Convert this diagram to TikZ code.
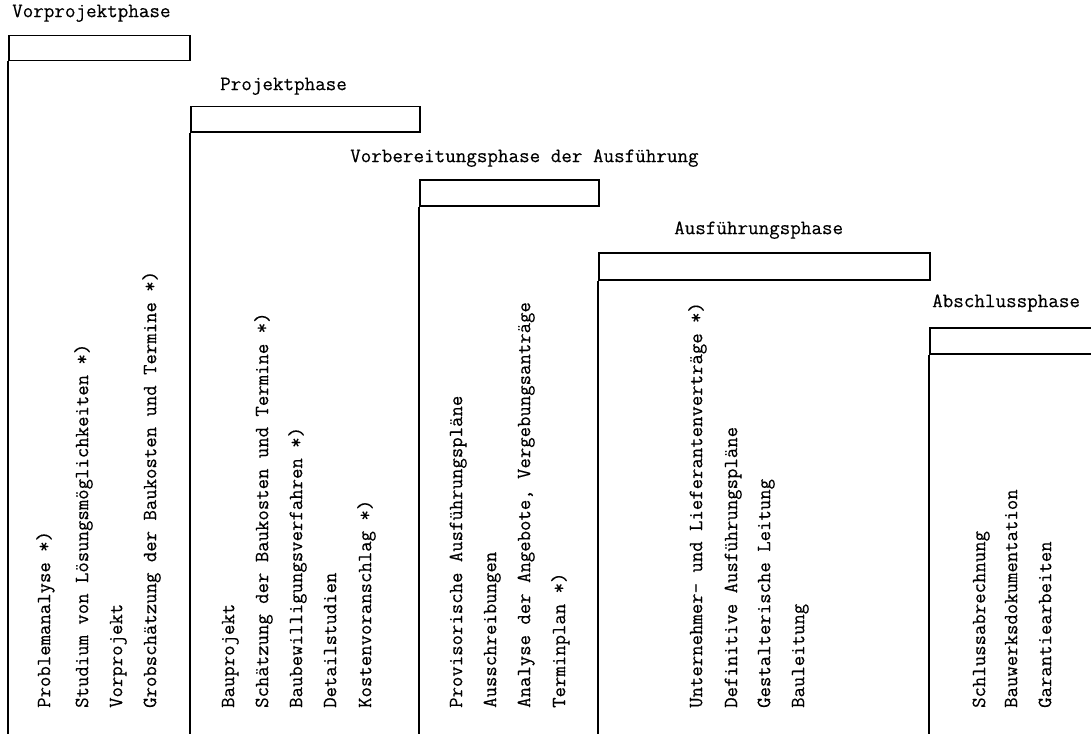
\documentclass[tikz,border=0pt]{standalone}
\usepackage{fontspec}
\newfontfamily\typewriter[FakeBold=0.3]{Latin Modern Mono}
\begin{document}
\begin{tikzpicture}[x=1pt,y=-1pt,
  rule/.style={line width=1.5pt,black},
  phasebox/.style={rule,draw,rectangle,inner sep=0pt,anchor=north west},
  phasetitle/.style={anchor=mid west,inner sep=0pt,font=\typewriter\fontsize{20.5}{22}\selectfont},
  task/.style={rotate=90,anchor=mid west,inner sep=0pt,font=\typewriter\fontsize{20.2}{22}\selectfont}]
\useasboundingbox (0,0) rectangle (1091,733);
\fill[white] (0,0) rectangle (1091,733);

% phase 1
\node[phasetitle] (t1) at (12,15) {Vorprojektphase};
\node[phasebox,minimum width=181,minimum height=25] (b1) at (8,35) {};
\coordinate (e1) at (8,736);
\draw[rule] (b1.south west) -- (e1);
\node[task] (a11) at (48,708) {Problemanalyse *)};
\node[task] (a12) at (86,708) {Studium von Lösungsmöglichkeiten *)};
\node[task] (a13) at (120,708) {Vorprojekt};
\node[task] (a14) at (154,708) {Grobschätzung der Baukosten und Termine *)};

% phase 2
\node[phasetitle] (t2) at (220,88) {Projektphase};
\node[phasebox,minimum width=229,minimum height=25] (b2) at (190,106) {};
\coordinate (e2) at (190,736);
\draw[rule] (b2.south west) -- (e2);
\node[task] (a21) at (232,708) {Bauprojekt};
\node[task] (a22) at (266,708) {Schätzung der Baukosten und Termine *)};
\node[task] (a23) at (300,708) {Baubewilligungsverfahren *)};
\node[task] (a24) at (334,708) {Detailstudien};
\node[task] (a25) at (369,708) {Kostenvoranschlag *)};

% phase 3
\node[phasetitle] (t3) at (350,160) {Vorbereitungsphase der Ausführung};
\node[phasebox,minimum width=179,minimum height=26] (b3) at (419,179) {};
\coordinate (e3) at (419,736);
\draw[rule] (b3.south west) -- (e3);
\node[task] (a31) at (460,708) {Provisorische Ausführungspläne};
\node[task] (a32) at (494,708) {Ausschreibungen};
\node[task] (a33) at (528,708) {Analyse der Angebote, Vergebungsanträge};
\node[task] (a34) at (563,708) {Terminplan *)};

% phase 4
\node[phasetitle] (t4) at (674,232) {Ausführungsphase};
\node[phasebox,minimum width=331,minimum height=27] (b4) at (598,252) {};
\coordinate (e4) at (598,736);
\draw[rule] (b4.south west) -- (e4);
\node[task] (a41) at (700,708) {Unternehmer- und Lieferantenverträge *)};
\node[task] (a42) at (735,708) {Definitive Ausführungspläne};
\node[task] (a43) at (768,708) {Gestalterische Leitung};
\node[task] (a44) at (802,708) {Bauleitung};

% phase 5
\node[phasetitle] (t5) at (932,305) {Abschlussphase};
\node[phasebox,minimum width=170,minimum height=26] (b5) at (929,327) {};
\coordinate (e5) at (929,736);
\draw[rule] (b5.south west) -- (e5);
\node[task] (a51) at (983,708) {Schlussabrechnung};
\node[task] (a52) at (1015,708) {Bauwerksdokumentation};
\node[task] (a53) at (1049,708) {Garantiearbeiten};
\end{tikzpicture}
\end{document}
